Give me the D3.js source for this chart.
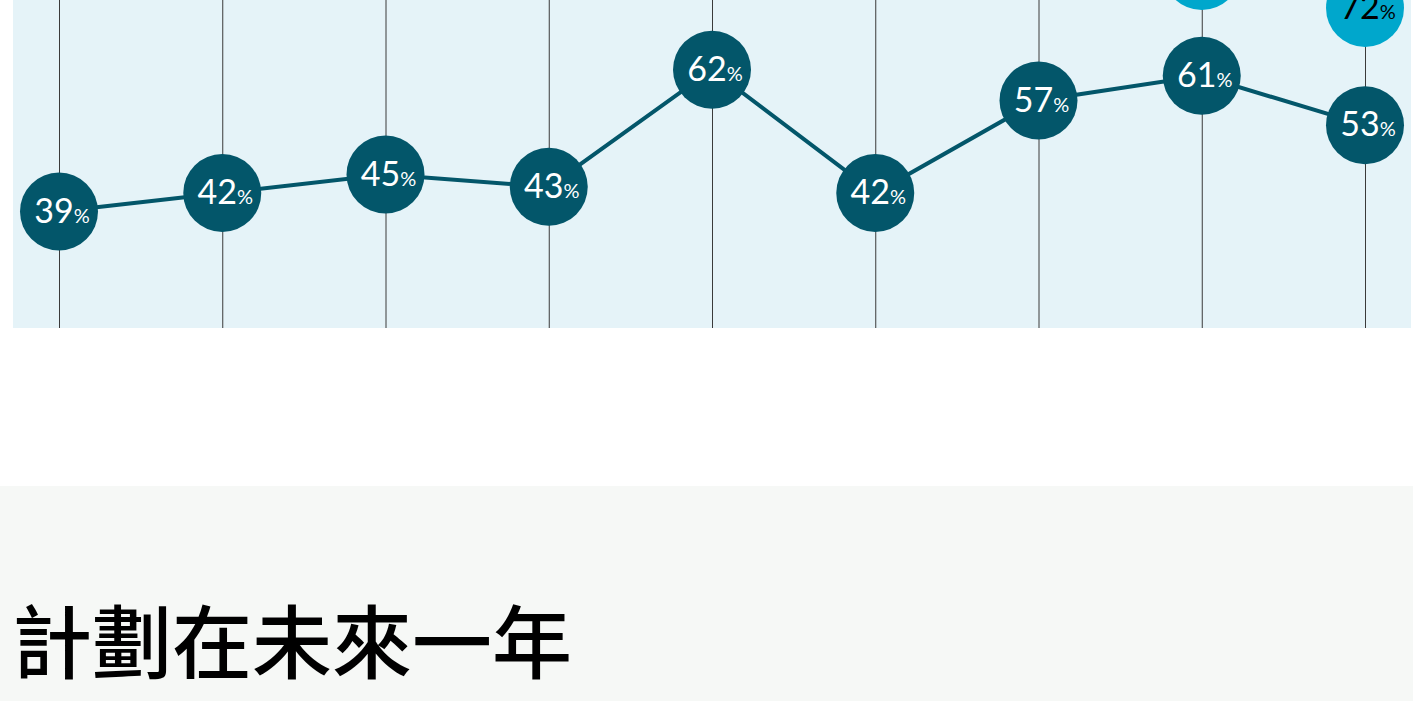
<!DOCTYPE html>
<html>
<head>
<meta charset="utf-8">
<script src="https://cdn.jsdelivr.net/npm/d3@7"></script>
<style>
  html, body { margin: 0; padding: 0; background: #ffffff; }
  svg { display: block; }
</style>
</head>
<body>
<svg id="chart" width="1413" height="701"></svg>
<script>
// ---- data ----
const categories = ["1", "2", "3", "4", "5", "6", "7", "8", "9"];
const seriesDark = [39, 42, 45, 43, 62, 42, 57, 61, 53];
const seriesLight = [null, null, null, null, null, null, null, 78, 72];
const titleLines = ["計劃在未來一年"];

// ---- layout ----
const W = 1413, H = 701;
const svg = d3.select("#chart");

const panel = { x0: 13, x1: 1411, y0: 0, y1: 328 };

const x = d3.scalePoint().domain(categories).range([59, 1365]);
const y = d3.scaleLinear().domain([39, 72]).range([211.5, 8]);

const darkColor = "#03566a";
const lightColor = "#00a7cc";
const R = 39;

// panel background
svg.append("rect")
  .attr("x", panel.x0).attr("y", panel.y0)
  .attr("width", panel.x1 - panel.x0).attr("height", panel.y1 - panel.y0)
  .attr("fill", "#e5f3f8");

// vertical grid lines through the axis generator
const xAxis = d3.axisBottom(x).tickSize(-(panel.y1 - panel.y0)).tickFormat("");
const gAxis = svg.append("g")
  .attr("transform", `translate(0,${panel.y1})`)
  .call(xAxis);
gAxis.select(".domain").remove();
gAxis.selectAll(".tick line").attr("stroke", "#3a3a3a").attr("stroke-width", 1);

const line = d3.line()
  .defined(d => d.v != null)
  .x(d => x(d.c)).y(d => y(d.v));

const darkData = categories.map((c, i) => ({ c, v: seriesDark[i] }));
const lightData = categories.map((c, i) => ({ c, v: seriesLight[i] }));

svg.append("path")
  .datum(darkData)
  .attr("fill", "none")
  .attr("stroke", darkColor)
  .attr("stroke-width", 4)
  .attr("d", line);

function drawDots(data, fill, textFill) {
  const g = svg.append("g");
  const pts = g.selectAll("g.pt").data(data.filter(d => d.v != null)).join("g")
    .attr("class", "pt")
    .attr("transform", d => `translate(${x(d.c)},${y(d.v)})`);
  pts.append("circle").attr("r", R).attr("fill", fill);
  const t = pts.append("text")
    .attr("x", 3).attr("y", 11)
    .attr("text-anchor", "middle")
    .attr("fill", textFill)
    .style("font-family", "Lato, 'Open Sans', sans-serif");
  t.append("tspan").attr("font-size", 34).text(d => d.v);
  t.append("tspan").attr("font-size", 20).text("%");
}

drawDots(lightData, lightColor, "#000000");
drawDots(darkData, darkColor, "#ffffff");

// lower grey section with title
svg.append("rect")
  .attr("x", 0).attr("y", 486).attr("width", W).attr("height", H - 486)
  .attr("fill", "#f6f8f6");

svg.append("g").selectAll("text").data(titleLines).join("text")
  .attr("x", 12)
  .attr("y", (d, i) => 672 + i * 96)
  .attr("fill", "#000000")
  .attr("font-size", 80)
  .attr("font-weight", 500)
  .style("font-family", "'Noto Sans CJK TC', 'Noto Sans CJK SC', sans-serif")
  .text(d => d);
</script>
</body>
</html>
